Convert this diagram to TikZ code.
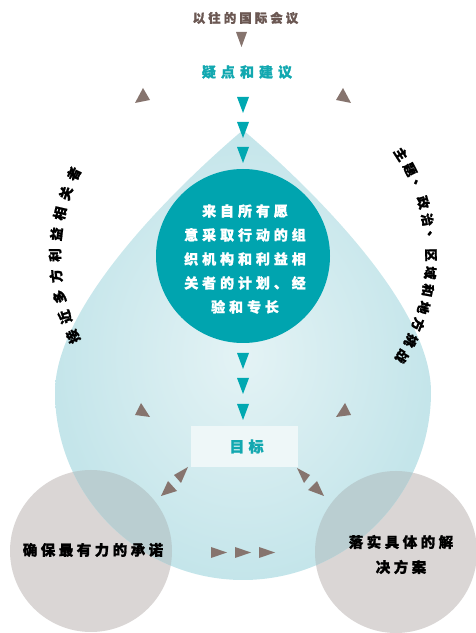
\documentclass[tikz,border=0pt]{standalone}
\usepackage{fontspec}
\newfontfamily\cjk{Noto Sans CJK SC}[BoldFeatures={FakeBold=1.2}]
\definecolor{brownT}{RGB}{107,88,83}
\definecolor{brownA}{RGB}{134,116,110}
\definecolor{tealT}{RGB}{18,168,176}
\definecolor{tealA}{RGB}{0,168,177}
\definecolor{tealC}{RGB}{0,164,175}
\definecolor{dropIn}{RGB}{228,243,245}
\definecolor{dropOut}{RGB}{196,229,234}
\definecolor{greyC}{RGB}{218,214,213}
\definecolor{overlapC}{RGB}{186,206,209}
\definecolor{boxC}{RGB}{238,247,248}
\tikzset{
  btri/.style={fill=brownA},
  ttri/.style={fill=tealA},
  cjktext/.style={font=\cjk\bfseries\fontsize{#1}{#1}\selectfont, inner sep=0pt},
}
\begin{document}
\begin{tikzpicture}[x=1pt,y=1pt]
\useasboundingbox (0,0) rectangle (476,633);
% grey circles
\fill[greyC] (91,82) circle (81);
\fill[greyC] (396,81) circle (81);
% drop
\shade[inner color=dropIn, outer color=dropOut] (243,503) .. controls (190,458) and (55,333) .. (55,241) arc[start angle=180,end angle=360,radius=188] .. controls (431,333) and (296,458) .. (243,503) -- cycle;
\begin{scope}
\clip (243,503) .. controls (190,458) and (55,333) .. (55,241) arc[start angle=180,end angle=360,radius=188] .. controls (431,333) and (296,458) .. (243,503) -- cycle;
\fill[overlapC] (91,82) circle (81);
\fill[overlapC] (396,81) circle (81);
\end{scope}
% teal circle
\node[circle, fill=tealC, minimum size=174pt, inner sep=0pt] (core) at (243,377) {};
\node[cjktext=14, text=white, align=center, font=\cjk\bfseries\fontsize{14}{24}\selectfont\addfontfeature{LetterSpace=28}] (coretext) at (245,374)
 {来自所有愿\\意采取行动的组\\织机构和利益相\\关者的计划、经\\验和专长};
% goal box
\node[fill=boxC, minimum width=107pt, minimum height=41pt, inner sep=0pt] (goal) at (244.5,186.5) {};
\node[cjktext=15, text=tealT, font=\cjk\bfseries\fontsize{15}{15}\selectfont\addfontfeature{LetterSpace=28}] (goaltext) at (246.5,186.5) {目标};
% top texts
\node[cjktext=12.5, text=brownT, font=\cjk\bfseries\fontsize{12.5}{12.5}\selectfont\addfontfeature{LetterSpace=24}] (past) at (245.5,615) {以往的国际会议};
\node[cjktext=14, text=tealT, font=\cjk\bfseries\fontsize{14}{14}\selectfont\addfontfeature{LetterSpace=36}] (doubts) at (247,561) {疑点和建议};
% bottom circle texts
\node[cjktext=14.5, text=black, font=\cjk\bfseries\fontsize{14.5}{14.5}\selectfont\addfontfeature{LetterSpace=24}] (commit) at (93,83) {确保最有力的承诺};
\node[cjktext=14.5, text=black, align=center, font=\cjk\bfseries\fontsize{14.5}{25}\selectfont\addfontfeature{LetterSpace=24}] (solve) at (401,78.5) {落实具体的解\\决方案};
% side arc texts
\begin{scope}[shift={(243,377)}]
\foreach \c [count=\i from 0] in {接,近,多,方,利,益,相,关,者} {
  \pgfmathsetmacro\ang{205.3-6.4*\i}
  \node[cjktext=13.5, rotate=\ang-90] (l\i) at (\ang:188) {\c};
}
\foreach \c [count=\i from 0] in {主,题,、,政,治,、,区,域,和,地,方,挑,战} {
  \pgfmathsetmacro\ang{32.8-5.417*\i}
  \node[cjktext=13, rotate=\ang-90] (r\i) at (\ang:188) {\c};
}
\end{scope}
% brown triangles
\fill[btri] (236,601) -- (247,601) -- (241.5,586) -- cycle;
\fill[btri] (143,545) -- (135,530) -- (150,533) -- cycle;
\fill[btri] (343,545) -- (351,530) -- (336,533) -- cycle;
\fill[btri] (141,230) -- (135,218) -- (150,216) -- cycle;
\fill[btri] (345,230) -- (351,218) -- (336,216) -- cycle;
\fill[btri] (188,166) -- (174,158) -- (181,150) -- cycle;
\fill[btri] (168,152) -- (161,137) -- (177,142) -- cycle;
\fill[btri] (297,165) -- (310,158) -- (304,150) -- cycle;
\fill[btri] (317,152) -- (308,143) -- (324,137) -- cycle;
\foreach \x in {211,235,259} {
  \fill[btri] (\x,86) -- (\x,75) -- (\x+16,80.5) -- cycle;
}
% teal triangles
\foreach \y in {536,511,486,280,255,229} {
  \fill[ttri] (237,\y) -- (249,\y) -- (243,\y-16) -- cycle;
}
\end{tikzpicture}
\end{document}
